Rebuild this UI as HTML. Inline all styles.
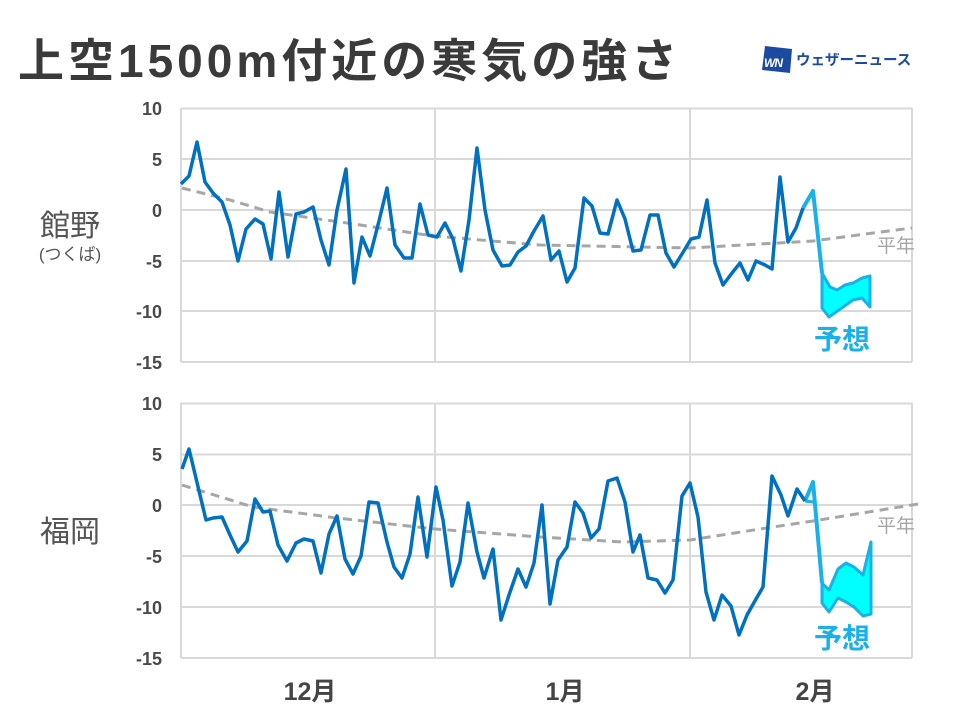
<!DOCTYPE html>
<html><head><meta charset="utf-8"><style>
html,body{margin:0;padding:0;background:#fff;}
svg{display:block;font-family:"Liberation Sans","Noto Sans CJK JP",sans-serif;}
</style></head><body>
<svg width="960" height="720" viewBox="0 0 960 720" xmlns="http://www.w3.org/2000/svg">
<rect width="960" height="720" fill="#fff"/>
<text x="18" y="77" font-size="46" font-weight="bold" fill="#3a3a3a" letter-spacing="4">上空1500m付近の寒気の強さ</text>
<!-- logo -->
<polygon points="765,46 792,49 790,73 762,70" fill="#1b4aa0"/>
<text x="764" y="67" font-size="12" font-weight="bold" font-style="italic" fill="#fff" letter-spacing="-1">WN</text>
<text x="796" y="65" font-size="14.5" font-weight="bold" fill="#1b4aa0">ウェザーニュース</text>

<g stroke="#d9d9d9" stroke-width="2" fill="none">
<path d="M181,108.5H912M181,159H912M181,210H912M181,261H912M181,311H912M181,362H912M181,108V362M435,108V362M690,108V362M912,108V362"/>
<path d="M181,403.5H912M181,454.5H912M181,505H912M181,556H912M181,607H912M181,658H912M181,403V658M435,403V658M690,403V658M912,403V658"/>
</g>
<g font-size="18" font-weight="bold" fill="#4a4a4a" text-anchor="end">
<text x="162" y="115">10</text><text x="162" y="166">5</text><text x="162" y="217">0</text><text x="162" y="268">-5</text><text x="162" y="318">-10</text><text x="162" y="369">-15</text>
<text x="162" y="410">10</text><text x="162" y="461">5</text><text x="162" y="512">0</text><text x="162" y="563">-5</text><text x="162" y="614">-10</text><text x="162" y="665">-15</text>
</g>
<text x="70" y="236" font-size="30" fill="#555" text-anchor="middle">館野</text>
<text x="70" y="260" font-size="17" fill="#555" text-anchor="middle">(つくば)</text>
<text x="70" y="542" font-size="30" fill="#555" text-anchor="middle">福岡</text>
<g font-size="25" font-weight="bold" fill="#444" text-anchor="middle">
<text x="310" y="700">12月</text><text x="565" y="700">1月</text><text x="815" y="700">2月</text>
</g>

<!-- top chart -->
<path d="M182,188 L230,200 L270,212 L347,223 L433,236 L540,245 L690,248 L813,241 L873,233 L912,228" fill="none" stroke="#a6a6a6" stroke-width="3" stroke-dasharray="9,6"/>
<text x="896" y="252" font-size="19" fill="#a6a6a6" text-anchor="middle">平年</text>
<polygon points="822,273 830,287 837,290 845,285 853,283 862,278 870,276 870,307 862,298 853,300 829,317 822,308" fill="#00ffff" stroke="#1ab0e8" stroke-width="3" stroke-linejoin="round"/>
<polyline points="803,208 813,191 822,273" fill="none" stroke="#1ab0e8" stroke-width="4" stroke-linejoin="round"/>
<polyline points="181,184 189,176 197,142 205,182 213,193 222,202 230,225 238,261 246,229 255,219 263,224 271,259 279,192 288,257 296,214 304,212 313,207 321,240 329,265 337,210 346,169 354,283 362,237 370,256 379,221 387,188 395,245 404,258 412,258 420,204 428,235 437,237 445,223 453,239 461,271 469,220 477,148 485,210 493,250 502,266 510,265 518,252 526,246 534,231 543,216 551,260 559,251 567,282 575,268 584,198 592,206 600,233 608,234 617,200 625,219 633,251 641,250 650,215 658,215 666,253 674,267 682,254 691,239 699,237 707,200 715,263 723,285 732,273 740,263 748,280 756,261 765,265 772,269 780,177 788,242 796,228 803,208" fill="none" stroke="#0070c0" stroke-width="3.5" stroke-linejoin="round"/>
<text x="842" y="349" font-size="28" font-weight="bold" fill="#1ab0e8" text-anchor="middle">予想</text>

<!-- bottom chart -->
<path d="M182,485 L253,507 L337,518 L435,529 L540,537 L623,542 L690,540 L773,527 L813,521 L918,504" fill="none" stroke="#a6a6a6" stroke-width="3" stroke-dasharray="9,6"/>
<text x="896" y="532" font-size="19" fill="#a6a6a6" text-anchor="middle">平年</text>
<polygon points="822,583 829,590 838,569 846,563 854,567 863,575 871,542 871,614 863,616 854,607 846,602 838,598 829,612 822,603" fill="#00ffff" stroke="#1ab0e8" stroke-width="3" stroke-linejoin="round"/>
<polyline points="805,501 813,482 822,583" fill="none" stroke="#1ab0e8" stroke-width="4" stroke-linejoin="round"/>
<polyline points="805,501 813,502" fill="none" stroke="#1ab0e8" stroke-width="3"/>
<polyline points="182,469 189,449 206,520 213,518 222,517 230,535 238,552 247,541 255,499 263,512 270,511 278,545 287,561 296,543 304,539 313,541 321,573 329,534 337,516 345,559 353,574 361,556 369,502 378,503 387,542 394,567 402,578 410,554 418,497 427,557 436,487 443,520 452,586 460,562 468,503 477,552 484,578 493,549 501,620 509,595 518,569 526,587 534,563 542,505 550,604 558,560 567,547 575,502 583,513 591,538 599,529 608,481 617,478 625,502 633,552 640,535 648,578 657,580 665,593 673,580 682,496 690,483 698,517 706,592 714,620 722,595 731,606 739,635 747,615 756,599 763,587 772,476 781,495 788,516 797,489 805,501" fill="none" stroke="#0070c0" stroke-width="3.5" stroke-linejoin="round"/>
<text x="842" y="648" font-size="28" font-weight="bold" fill="#1ab0e8" text-anchor="middle">予想</text>
</svg>
</body></html>
